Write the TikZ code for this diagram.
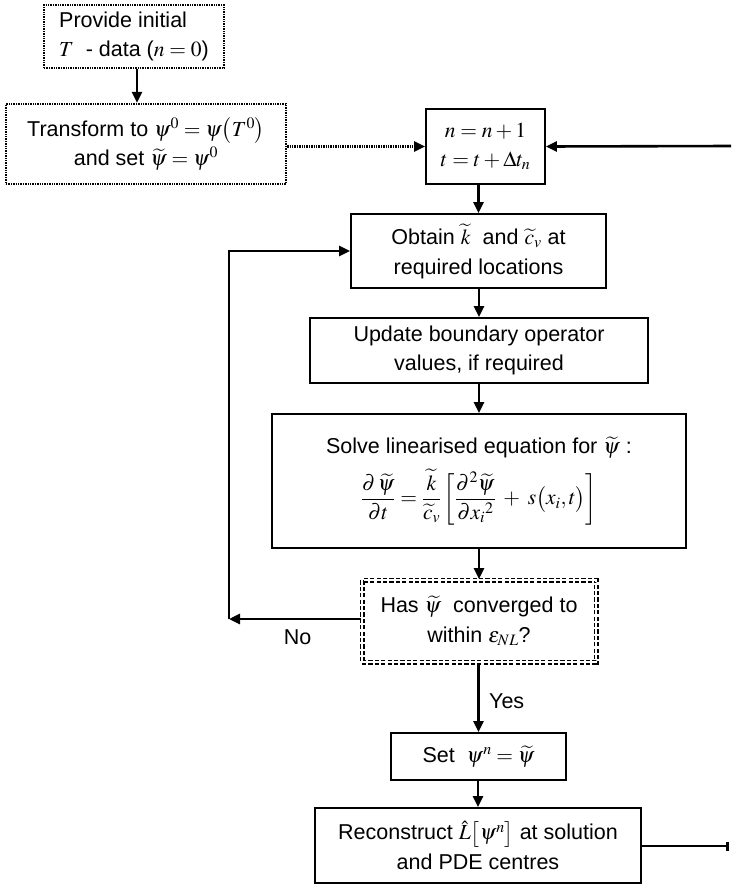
\documentclass[tikz,border=0pt]{standalone}
\usepackage{mathptmx}
\usepackage[no-math]{fontspec}
\setmainfont{Liberation Sans}
\usetikzlibrary{arrows.meta}
\begin{document}
\begin{tikzpicture}[x=1pt,y=-1pt,
  every node/.style={font=\fontsize{21.5}{29.5}\selectfont},
  box/.style={draw, line width=1.8pt, rectangle, align=center, inner sep=2pt},
  dotbox/.style={box, line width=2.2pt, dash pattern=on 1.4pt off 1pt},
  dashbox/.style={box, line width=1.9pt, double=white, double distance=1.2pt, dash pattern=on 4.2pt off 2.2pt},
  arr/.style={line width=2.6pt, -{Triangle[length=11pt,width=10pt]}},
  lin/.style={line width=2.6pt}]
\useasboundingbox (0,0) rectangle (731,886);
\node[dotbox, minimum width=180, minimum height=63, align=left] (init) at (134,36.5)
  {Provide initial\\ $T$\ \ - data ($n=0$)};
\node[dotbox, minimum width=280, minimum height=80] (trans) at (146,144)
  {Transform to $\psi^0=\psi\bigl(T^0\bigr)$\\ and set $\widetilde\psi=\psi^0$};
\node[box, minimum width=119, minimum height=75] (step) at (485.5,146.5)
  {$n=n+1$\\ $t=t+\Delta t_n$};
\node[box, minimum width=255, minimum height=74] (obtain) at (478.5,251)
  {Obtain $\widetilde k$\ \ and $\widetilde c_v$ at\\ required locations};
\node[box, minimum width=338, minimum height=65] (update) at (479,350.5)
  {Update boundary operator\\ values, if required};
\node[box, minimum width=414, minimum height=134] (solve) at (479,481)
  {Solve linearised equation for $\widetilde\psi$ :\\[10pt]
   $\displaystyle \frac{\partial\,\widetilde\psi}{\partial t}=\frac{\widetilde k}{\widetilde c_v}\left[\frac{\partial^2\widetilde\psi}{\partial x_i{}^2}\;+\;s\bigl(x_i,t\bigr)\right]$};
\node[dashbox, minimum width=234, minimum height=82] (conv) at (479,621)
  {Has $\widetilde\psi$\ \ converged to\\ within $\varepsilon_{NL}$?};
\node[box, minimum width=175, minimum height=47] (setn) at (478.5,756.5)
  {Set\ \ $\psi^n=\widetilde\psi$};
\node[box, minimum width=326, minimum height=75] (recon) at (478,845.5)
  {Reconstruct $\hat L\bigl[\psi^n\bigr]$ at solution\\ and PDE centres};
\coordinate (noend) at (229,619);
\coordinate (topin) at (731,146);
\coordinate (botout) at (729,846);
\draw[arr] ([xshift=3pt]init.south) -- ([xshift=3pt]init.south |- trans.north);
\draw[arr, dash pattern=on 1.4pt off 1pt] (trans.east |- step.west) -- (step.west);
\draw[arr] (topin) -- (step.east);
\draw[arr] (obtain.north |- step.south) -- (obtain.north);
\draw[arr] (update.north |- obtain.south) -- (update.north);
\draw[arr] (solve.north |- update.south) -- (solve.north);
\draw[arr] (conv.north |- solve.south) -- (conv.north);
\draw[arr] (conv.west |- noend) -- node[below=6pt, pos=0.48] {No} (noend);
\draw[arr] (noend) |- (obtain.west);
\draw[arr] (setn.north |- conv.south) -- node[right=6pt, pos=0.55] {Yes} (setn.north);
\draw[arr] (recon.north |- setn.south) -- (recon.north);
\draw[lin, -{Bar[width=9pt,line width=2.6pt]}] (recon.east |- botout) -- (botout);
\end{tikzpicture}
\end{document}
